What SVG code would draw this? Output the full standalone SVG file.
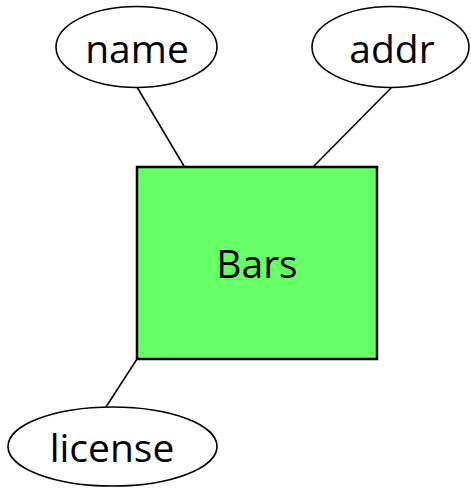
<svg xmlns="http://www.w3.org/2000/svg" width="471" height="489" viewBox="0 0 471 489">
<style>
.attr{fill:#ffffff;stroke:#000000;stroke-width:1.6}
.ent{fill:#66ff66;stroke:#000000;stroke-width:2.5}
.lbl{font-family:"Open Sans","Noto Sans",sans-serif;font-size:39px;fill:#000000;text-anchor:middle}
.conn{stroke:#000000;stroke-width:1.6;fill:none}
</style>
<rect width="471" height="489" fill="#ffffff"/>
<g id="connectors">
<line class="conn" x1="137" y1="87" x2="184.5" y2="167"/>
<line class="conn" x1="392" y1="87" x2="313" y2="167"/>
<line class="conn" x1="137" y1="359" x2="106" y2="407"/>
</g>
<g id="node-bars">
<rect class="ent" x="137" y="167" width="240" height="192"/>
<text class="lbl" x="257" y="278">Bars</text>
</g>
<g id="node-name">
<ellipse class="attr" cx="136.5" cy="47" rx="80.5" ry="40.5"/>
<text class="lbl" x="137" y="63">name</text>
</g>
<g id="node-addr">
<ellipse class="attr" cx="390.5" cy="47" rx="78.5" ry="40.5"/>
<text class="lbl" x="392" y="63">addr</text>
</g>
<g id="node-license">
<ellipse class="attr" cx="112.5" cy="446.5" rx="104.5" ry="39.5"/>
<text class="lbl" x="112" y="462">license</text>
</g>
</svg>
